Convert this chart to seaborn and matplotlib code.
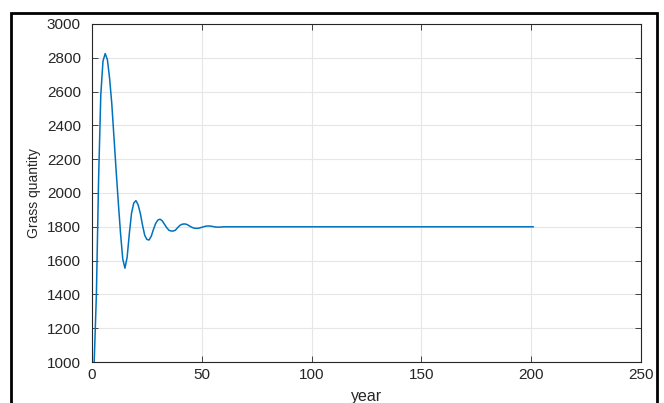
import matplotlib
matplotlib.use("Agg")
import matplotlib.pyplot as plt
import seaborn as sns
import pandas as pd
from matplotlib.patches import Rectangle

# Simulated grass quantity per year
years = list(range(1, 61)) + [201]
grass = [
    1000, 1400, 2080, 2580, 2780, 2825, 2790, 2680, 2530, 2330,
    2130, 1940, 1760, 1610, 1555, 1620, 1760, 1880, 1940, 1955,
    1930, 1880, 1810, 1750, 1725, 1722, 1745, 1785, 1820, 1840,
    1845, 1835, 1815, 1795, 1780, 1775, 1775, 1780, 1795, 1808,
    1815, 1817, 1815, 1808, 1800, 1794, 1791, 1791, 1793, 1797,
    1801, 1804, 1805, 1804, 1802, 1799, 1798, 1798, 1799, 1800,
    1800,
]
x_ticks = [0, 50, 100, 150, 200, 250]
y_ticks = [1000, 1200, 1400, 1600, 1800, 2000, 2200, 2400, 2600, 2800, 3000]

df = pd.DataFrame({"year": years, "grass": grass})

sns.set_theme(style="whitegrid")
plt.rcParams["font.family"] = ["Liberation Sans", "DejaVu Sans"]

fig = plt.figure(figsize=(6.64, 4.03), dpi=100)
ax = fig.add_axes([92 / 664, 1 - 362 / 403, (641 - 92) / 664, (362 - 24) / 403])

sns.lineplot(data=df, x="year", y="grass", ax=ax, color="#0072BD", linewidth=1.1)

ax.set_xlim(0, 250)
ax.set_ylim(1000, 3000)
ax.set_xticks(x_ticks)
ax.set_yticks(y_ticks)
ax.set_xlabel("year", fontsize=11.5, color="#262626", labelpad=5)
ax.set_ylabel("Grass quantity", fontsize=10, color="#262626")
ax.yaxis.set_label_coords((41 - 92) / 549, 0.5)

ax.grid(True, color="#e6e6e6", linewidth=0.8)
ax.set_facecolor("white")
for s in ax.spines.values():
    s.set_visible(True)
    s.set_color("#262626")
    s.set_linewidth(0.8)
ax.tick_params(axis="both", which="both", direction="in", length=4, width=0.6,
               colors="#262626", labelsize=11, top=True, right=True,
               bottom=True, left=True)
ax.tick_params(axis="x", pad=4)
ax.tick_params(axis="y", pad=8)

# Outer black frame around the figure
fig.patches.append(Rectangle((11 / 664, -0.05), (657 - 11) / 664, 1 - 13 / 403 + 0.05,
                             transform=fig.transFigure, fill=False,
                             edgecolor="black", linewidth=2.0))

fig.savefig("out.png", dpi=100, facecolor="white")
